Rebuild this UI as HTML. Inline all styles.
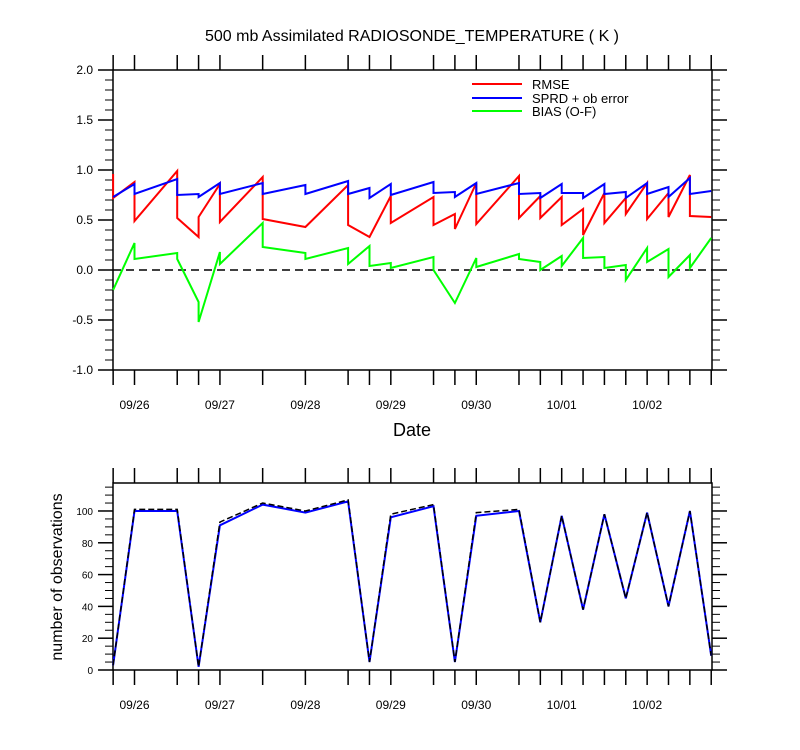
<!DOCTYPE html>
<html><head><meta charset="utf-8">
<style>
body{margin:0;background:#fff;}
svg{display:block;font-family:"Liberation Sans",sans-serif;}
</style></head>
<body>
<svg id="chart" width="800" height="750" viewBox="0 0 800 750" xmlns="http://www.w3.org/2000/svg">
<text x="412" y="41" font-size="16" text-anchor="middle">500 mb Assimilated RADIOSONDE_TEMPERATURE ( K )</text>
<text x="412" y="436" font-size="18" text-anchor="middle">Date</text>
<text x="0" y="0" font-size="16" text-anchor="middle" transform="translate(62,577) rotate(-90)">number of observations</text>
<g id="top"></g>
<g id="bot"></g>
<g>
<line x1="472" y1="84" x2="522" y2="84" stroke="#ff0000" stroke-width="2"/>
<text x="532" y="89" font-size="13">RMSE</text>
<line x1="472" y1="98" x2="522" y2="98" stroke="#0000ff" stroke-width="2"/>
<text x="532" y="103" font-size="13">SPRD + ob error</text>
<line x1="472" y1="111" x2="522" y2="111" stroke="#00ff00" stroke-width="2"/>
<text x="532" y="116" font-size="13">BIAS (O-F)</text>
</g>
</svg>
<script>
const hours=[-6,0,12,18,24,36,48,60,66,72,84,90,96,108,114,120,126,132,138,144,150,156,162];
const dayLabels=["09/26","09/27","09/28","09/29","09/30","10/01","10/02"];
const rmseIn =[.96,.88,.99,.33,.86,.93,.43,.85,.33,.74,.73,.56,.87,.94,.74,.73,.61,.77,.72,.87,.77,.95,.53];
const rmseOut=[.72,.49,.52,.53,.48,.51,.43,.45,.33,.47,.45,.41,.46,.52,.52,.45,.35,.47,.56,.51,.53,.54,.53];
const sprdIn =[.73,.86,.91,.76,.87,.87,.85,.89,.82,.86,.88,.78,.87,.87,.77,.86,.77,.86,.78,.87,.83,.92,.79];
const sprdOut=[.73,.76,.75,.73,.76,.76,.76,.76,.72,.75,.77,.73,.76,.76,.72,.77,.72,.76,.72,.76,.73,.76,.79];
const biasIn =[-.2,.27,.17,-.32,.18,.47,.17,.22,.24,.07,.13,-.33,.12,.16,.08,.14,.32,.13,.05,.22,.21,.15,.32];
const biasOut=[-.2,.11,.11,-.52,.06,.23,.11,.06,.04,.02,0,-.33,.03,.11,0,.04,.12,.02,-.10,.08,-.07,.02,.32];
const obsUsed=[3,100,100,2,91,104,99,106,5,96,103,5,97,100,30,97,38,98,45,99,40,100,9];
const obsPoss=[3,101,101,2,93,105,100,107,5,98,104,5,99,101,30,97,38,98,45,99,40,100,9];

const NS="http://www.w3.org/2000/svg";
const X0=113,X1=712;
const xs=h=>134.5+h*3.56;
function mk(parent,tag,attrs){const e=document.createElementNS(NS,tag);for(const k in attrs)e.setAttribute(k,attrs[k]);parent.appendChild(e);return e;}

function panel(g,top,bot,vmin,vmax,majors,minorStep,fmt,fs,prefix){
  const ys=v=>bot-(v-vmin)/(vmax-vmin)*(bot-top);
  const b=mk(g,'rect',{x:X0,y:top,width:X1-X0,height:bot-top,fill:'none',stroke:'#000','stroke-width':1.5});
  
  
  hours.forEach(h=>{
    const x=xs(h);
    const t1=mk(g,'line',{x1:x,y1:bot,x2:x,y2:bot+15,stroke:'#000','stroke-width':1.5});
    
    
    const t2=mk(g,'line',{x1:x,y1:top,x2:x,y2:top-15,stroke:'#000','stroke-width':1.5});
    
    
  });
  dayLabels.forEach((d,i)=>{
    const t=mk(g,'text',{x:xs(i*24),y:bot+39,'font-size':12,'text-anchor':'middle'});
    t.textContent=d;
    
    
  });
  for(let v=vmin;v<=vmax+1e-9;v+=minorStep){
    const y=ys(v);
    const isMaj=majors.some(m=>Math.abs(m-v)<1e-6);
    const L=isMaj?15:8;
    const a=mk(g,'line',{x1:X0-L,y1:y,x2:X0,y2:y,stroke:'#000','stroke-width':isMaj?1.5:1});
    
    
    const c=mk(g,'line',{x1:X1,y1:y,x2:X1+L,y2:y,stroke:'#000','stroke-width':isMaj?1.5:1});
    
    
  }
  majors.forEach(m=>{
    const t=mk(g,'text',{x:X0-20,y:ys(m)+4,'font-size':fs,'text-anchor':'end'});
    t.textContent=fmt(m);
    
    
  });
  return ys;
}
function sawPath(ins,outs,ys){
  let d='';
  hours.forEach((h,i)=>{const x=xs(h).toFixed(1);d+=(i?'L':'M')+x+','+ys(ins[i]).toFixed(1)+'L'+x+','+ys(outs[i]).toFixed(1);});
  return d;
}
function linePath(vals,ys){return hours.map((h,i)=>(i?'L':'M')+xs(h).toFixed(1)+','+ys(vals[i]).toFixed(1)).join('');}

const gt=document.getElementById('top');
const yt=panel(gt,70,370,-1,2,[-1,-0.5,0,0.5,1,1.5,2],0.1,v=>v.toFixed(1),12,'top');
const z=mk(gt,'line',{x1:X0,y1:yt(0),x2:X1,y2:yt(0),stroke:'#000','stroke-width':1.5,'stroke-dasharray':'8,5'});


const pg=mk(gt,'path',{d:sawPath(biasIn,biasOut,yt),fill:'none',stroke:'#00ff00','stroke-width':2});


const pr=mk(gt,'path',{d:sawPath(rmseIn,rmseOut,yt),fill:'none',stroke:'#ff0000','stroke-width':2});


const pb=mk(gt,'path',{d:sawPath(sprdIn,sprdOut,yt),fill:'none',stroke:'#0000ff','stroke-width':2});



const gb=document.getElementById('bot');
const yb=panel(gb,483,670,0,117.6,[0,20,40,60,80,100],5,v=>String(v),10,'bottom');
const pu=mk(gb,'path',{d:linePath(obsUsed,yb),fill:'none',stroke:'#0000ff','stroke-width':2});


const pp=mk(gb,'path',{d:linePath(obsPoss,yb),fill:'none',stroke:'#000','stroke-width':1.5,'stroke-dasharray':'6,3'});


</script>
</body></html>
